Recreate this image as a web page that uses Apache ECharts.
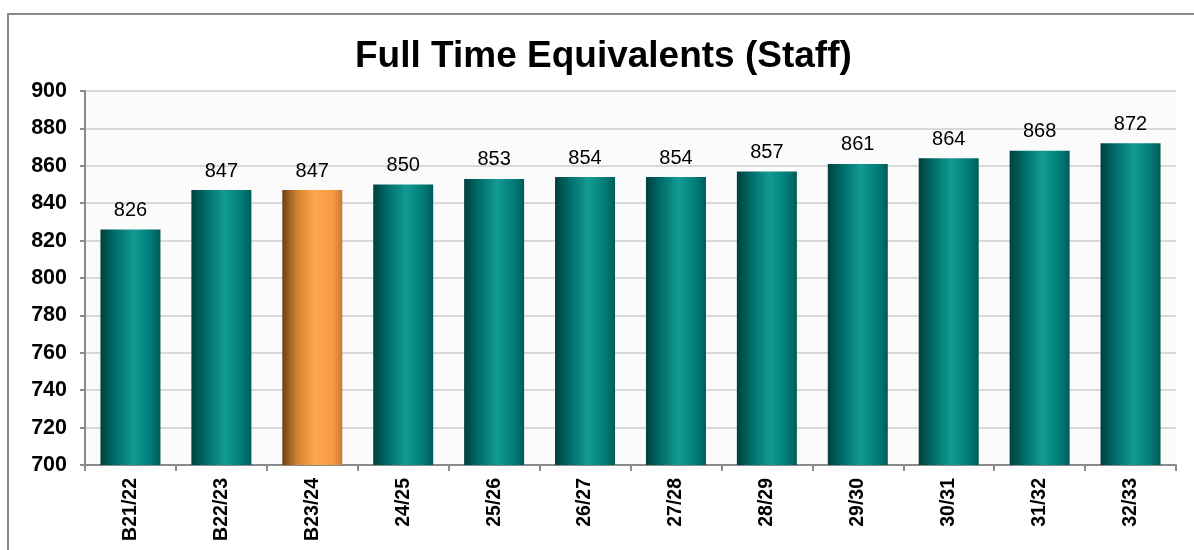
<!DOCTYPE html>
<html>
<head>
<meta charset="utf-8">
<script src="https://cdn.jsdelivr.net/npm/echarts@6/dist/echarts.min.js"></script>
<style>
  html, body { margin: 0; padding: 0; background: #fff; }
  #chart { width: 1194px; height: 550px; }
</style>
</head>
<body>
<div id="chart"></div>
<script>
const years = ['B21/22', 'B22/23', 'B23/24', '24/25', '25/26', '26/27', '27/28', '28/29', '29/30', '30/31', '31/32', '32/33']
const fte = [826, 847, 847, 850, 853, 854, 854, 857, 861, 864, 868, 872]
const highlight = 'B23/24'

const tealFill = new echarts.graphic.LinearGradient(0, 0, 1, 0, [
  { offset: 0, color: '#00403e' },
  { offset: 0.25, color: '#006e6a' },
  { offset: 0.55, color: '#139a95' },
  { offset: 0.85, color: '#007a75' },
  { offset: 1, color: '#005a56' }
])
const orangeFill = new echarts.graphic.LinearGradient(0, 0, 1, 0, [
  { offset: 0, color: '#6e3f15' },
  { offset: 0.25, color: '#d4842f' },
  { offset: 0.55, color: '#ffa850' },
  { offset: 0.85, color: '#f59a42' },
  { offset: 1, color: '#c87a33' }
])

const chart = echarts.init(document.getElementById('chart'))
chart.setOption({
  animation: false,
  title: {
    text: 'Full Time Equivalents (Staff)',
    left: 350,
    top: 33,
    textStyle: { fontFamily: 'Liberation Sans, Arial', fontSize: 37, fontWeight: 'bold', color: '#000' }
  },
  graphic: [{
    type: 'rect',
    shape: { x: 8, y: 14, width: 1200, height: 560 },
    style: { fill: 'none', stroke: '#8a8a8a', lineWidth: 2 },
    silent: true
  }],
  grid: { left: 85, right: 18, top: 91, bottom: 85, show: true, backgroundColor: '#fbfbfb', borderWidth: 0 },
  xAxis: {
    type: 'category',
    data: years,
    axisLine: { lineStyle: { color: '#8a8a8a', width: 2 } },
    axisTick: { show: true, length: 6, lineStyle: { color: '#8a8a8a', width: 2 } },
    axisLabel: {
      rotate: 90, margin: 13, color: '#000',
      fontFamily: 'Liberation Sans, Arial', fontSize: 19.5, fontWeight: 'bold'
    }
  },
  yAxis: {
    type: 'value',
    min: 700, max: 900, interval: 20,
    axisLine: { show: true, lineStyle: { color: '#8a8a8a', width: 2 } },
    axisTick: { show: true, length: 5, lineStyle: { color: '#8a8a8a', width: 2 } },
    splitLine: { lineStyle: { color: '#d9d9d9', width: 2 } },
    axisLabel: {
      margin: 18, color: '#000',
      fontFamily: 'Liberation Sans, Arial', fontSize: 21.5, fontWeight: 'bold'
    }
  },
  series: [{
    type: 'bar',
    barCategoryGap: '34%',
    data: fte.map((v, i) => ({
      value: v,
      itemStyle: { color: years[i] === highlight ? orangeFill : tealFill }
    })),
    label: {
      show: true, position: 'top', distance: 9, color: '#000',
      fontFamily: 'Liberation Sans, Arial', fontSize: 20
    }
  }]
})
</script>
</body>
</html>
